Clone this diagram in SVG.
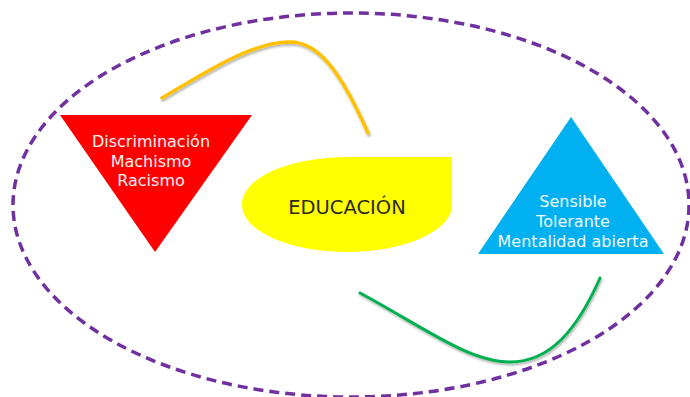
<svg xmlns="http://www.w3.org/2000/svg" width="690" height="397" viewBox="0 0 690 397">
<defs>
<style>
.lbl{font-family:"DejaVu Sans","Liberation Sans",sans-serif;text-anchor:middle;}
.w{fill:#FFF2F2;font-size:16px;}
.b{fill:#F2FAFF;font-size:16px;}
.curve{fill:none;stroke-linecap:round;filter:url(#sh);}
</style>
<filter id="sh" x="-10%" y="-10%" width="120%" height="130%">
<feDropShadow dx="1" dy="2" stdDeviation="1.2" flood-color="#000" flood-opacity="0.3"/>
</filter>
</defs>
<rect width="690" height="397" fill="#FFFFFF"/>
<g id="frame">
<ellipse cx="351" cy="205" rx="338" ry="192" fill="none" stroke="#7030A0" stroke-width="3.5" stroke-dasharray="10 6"/>
</g>
<g id="connectors">
<path class="curve" d="M162,98 C215,66 255,42 290,42 C318,42 340,70 368,133" stroke="#FFC000" stroke-width="3.5"/>
<path class="curve" d="M360,293 C420,325 468,362 510,362 C550,362 577,330 600,278" stroke="#00B050" stroke-width="3"/>
</g>
<g id="node-negativos">
<polygon points="60,115 252,115 155,252" fill="#FF0000"/>
<text class="lbl w" x="151" y="147">Discriminación</text>
<text class="lbl w" x="151" y="167">Machismo</text>
<text class="lbl w" x="151" y="186">Racismo</text>
</g>
<g id="node-educacion">
<path d="M347,157 L452,157 L452,205 A105 47 0 0 1 347,252 A105 47 0 0 1 242,205 A105 47 0 0 1 347,157 Z" fill="#FFFF00"/>
<text class="lbl" x="347" y="214" font-size="19.5" fill="#2B2B1A">EDUCACIÓN</text>
</g>
<g id="node-positivos">
<polygon points="571,117 664,254 478,254" fill="#00B0F0"/>
<text class="lbl b" x="573" y="207">Sensible</text>
<text class="lbl b" x="573" y="227">Tolerante</text>
<text class="lbl b" x="573" y="247">Mentalidad abierta</text>
</g>
</svg>
